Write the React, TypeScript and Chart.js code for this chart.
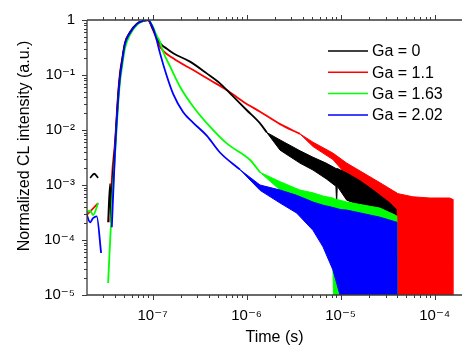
import React, { useEffect, useRef } from "react";
import { Chart, registerables } from "chart.js";

Chart.register(...registerables);

const FONT = "'Liberation Sans', Arial, 'DejaVu Sans', sans-serif";
const FLOOR = 1e-6; // noise reaching below the axis bottom

const SERIES_LABELS = ["Ga = 0", "Ga = 1.1", "Ga = 1.63", "Ga = 2.02"];
const SERIES_COLORS = ["#000000", "#ff0000", "#00ff00", "#0000ff"];

const X_TICK_VALUES = [1e-7, 1e-6, 1e-5, 1e-4];
const X_TICK_LABELS = ["10⁻⁷", "10⁻⁶", "10⁻⁵", "10⁻⁴"];
const Y_TICK_VALUES = [1e-5, 1e-4, 1e-3, 1e-2, 1e-1, 1];
const Y_TICK_LABELS = ["10⁻⁵", "10⁻⁴", "10⁻³", "10⁻²", "10⁻¹", "1"];

const X_TITLE = "Time (s)";
const Y_TITLE = "Normalized CL intensity (a.u.)";

// ---- Ga = 0 (black) ----
const T_GA0 = [2.17e-8, 2.4e-8, 2.64e-8, 3.0e-8, 3.37e-8, 3.54e-8, 3.62e-8, 3.71e-8, 3.99e-8, 4.3e-8, 4.51e-8, 4.74e-8, 5.1e-8, 5.76e-8, 6.84e-8, 7.92e-8, 8.95e-8, 1.01e-7, 1.09e-7, 1.2e-7, 1.42e-7, 1.66e-7, 2.5e-7, 3.77e-7, 5.21e-7, 7.23e-7, 1.0e-6, 1.39e-6, 1.64e-6];
const I_GA0 = [1.35e-3, 1.6e-3, 1.35e-3, null, 2.1e-4, 1.05e-3, 2.0e-4, 8e-4, 5e-3, 0.04, 0.1, 0.18, 0.38, 0.6, 0.86, 0.96, 1.0, 0.68, 0.52, 0.38, 0.3, 0.248, 0.175, 0.107, 0.0706, 0.0403, 0.0231, 0.0132, 0.009];
const BT_GA0 = [1.64e-6, 2.27e-6, 3.69e-6, 5.08e-6, 7.0e-6, 8.9e-6, 9.06e-6, 9.2e-6, 1.16e-5, 1.6e-5, 2.21e-5, 3.34e-5, 3.96e-5];
const BH_GA0 = [0.009, 0.0066, 0.0042, 0.0032, 0.0025, 0.002, 0.002, 0.002, 0.00165, 0.0012, 8.1e-4, 4.7e-4, 3.5e-4];
const BL_GA0 = [0.009, 0.0043, 0.0025, 0.00187, 0.0013, 9.5e-4, 4.7e-4, 9.5e-4, 5.3e-4, 4.3e-4, 3.5e-4, 3.1e-4, 2.85e-4];

// ---- Ga = 1.1 (red) ----
const T_GA11 = [2.0e-8, 2.64e-8, 3.0e-8, 3.54e-8, 3.71e-8, 3.99e-8, 4.3e-8, 4.51e-8, 4.74e-8, 5.1e-8, 5.76e-8, 6.84e-8, 7.92e-8, 8.95e-8, 1.01e-7, 1.09e-7, 1.2e-7, 1.66e-7, 2.71e-7, 4.08e-7, 6.15e-7, 9.2e-7, 1.39e-6, 2.27e-6, 3.69e-6];
const I_GA11 = [2.85e-4, 4.7e-4, null, 2.1e-4, 1.5e-3, 6e-3, 0.045, 0.11, 0.19, 0.39, 0.6, 0.86, 0.96, 1.0, 0.66, 0.48, 0.327, 0.201, 0.123, 0.081, 0.0534, 0.0327, 0.0215, 0.0128, 0.0085];
const BT_GA11 = [3.69e-6, 5.08e-6, 8.28e-6, 1.16e-5, 2.62e-5, 3.78e-5, 3.96e-5, 4.0e-5, 5.86e-5, 8.89e-5, 1.2e-4, 1.44e-4, 1.55e-4, 1.56e-4];
const BH_GA11 = [0.0085, 0.006, 0.0038, 0.0025, 0.0011, 7.5e-4, 7.2e-4, 7.0e-4, 6.1e-4, 5.8e-4, 5.8e-4, 5.8e-4, 5.5e-4, FLOOR];
const BL_GA11 = [0.0085, 0.005, 0.0029, 0.0015, 5.3e-4, 2.85e-4, 2.7e-4, FLOOR, FLOOR, FLOOR, FLOOR, FLOOR, FLOOR, FLOOR];

// ---- Ga = 1.63 (green) ----
const T_GA163 = [2.0e-8, 2.17e-8, 2.33e-8, 2.64e-8, 3.0e-8, 3.37e-8, 3.71e-8, 3.99e-8, 4.3e-8, 4.51e-8, 4.74e-8, 5.1e-8, 5.76e-8, 6.84e-8, 7.92e-8, 8.95e-8, 1.01e-7, 1.09e-7, 1.2e-7, 1.29e-7, 1.54e-7, 1.96e-7, 2.71e-7, 4.08e-7, 6.15e-7, 1.09e-6, 1.39e-6];
const I_GA163 = [3.2e-4, 3.4e-4, 2.85e-4, 4.7e-4, null, 1.65e-5, 4.9e-4, 3.5e-3, 0.028, 0.075, 0.14, 0.31, 0.54, 0.82, 0.95, 1.0, 0.75, 0.55, 0.4, 0.27, 0.142, 0.0612, 0.0265, 0.0115, 0.0057, 0.00285, 0.0017];
const BT_GA163 = [1.39e-6, 2.27e-6, 3.69e-6, 5.08e-6, 6.49e-6, 7.8e-6, 8.28e-6, 8.6e-6, 1.16e-5, 2.62e-5, 3.78e-5, 3.96e-5, 4.0e-5];
const BH_GA163 = [0.0017, 1.15e-3, 8.1e-4, 7.2e-4, 6.3e-4, 5.9e-4, 5.8e-4, 5.6e-4, 4.9e-4, 3.8e-4, 2.85e-4, 2.7e-4, FLOOR];
const BL_GA163 = [0.0017, 8.1e-4, 5.3e-4, 4.3e-4, 3.5e-4, 1.5e-4, 3e-5, FLOOR, FLOOR, FLOOR, FLOOR, FLOOR, FLOOR];

// ---- Ga = 2.02 (blue) ----
const T_GA202 = [2.0e-8, 2.17e-8, 2.33e-8, 2.55e-8, 2.84e-8, 3.2e-8, 3.69e-8, 3.99e-8, 4.3e-8, 4.51e-8, 4.74e-8, 5.1e-8, 5.76e-8, 6.84e-8, 7.92e-8, 8.95e-8, 1.01e-7, 1.09e-7, 1.2e-7, 1.42e-7, 1.66e-7, 2.12e-7, 2.71e-7, 3.77e-7, 5.21e-7, 8.51e-7];
const I_GA202 = [2.85e-4, 2.1e-4, 2.5e-4, 2.7e-4, 5.8e-5, null, 1.7e-4, 4e-3, 0.034, 0.09, 0.17, 0.37, 0.58, 0.85, 0.96, 1.0, 0.72, 0.48, 0.25, 0.095, 0.045, 0.021, 0.0135, 0.0079, 0.0039, 0.0019];
const BT_GA202 = [8.51e-7, 1.39e-6, 2.27e-6, 3.4e-6, 5.08e-6, 6.49e-6, 8.28e-6, 9.84e-6, 1.05e-5, 1.16e-5, 2.62e-5, 3.96e-5, 4.0e-5];
const BH_GA202 = [0.0019, 1.0e-3, 8.1e-4, 6.5e-4, 4.9e-4, 4.3e-4, 3.9e-4, 3.6e-4, 3.55e-4, 3.5e-4, 2.6e-4, 2.1e-4, FLOOR];
const BL_GA202 = [0.0019, 8e-4, 4.7e-4, 3.1e-4, 1.5e-4, 7.5e-5, 2.85e-5, 1.0e-5, FLOOR, FLOOR, FLOOR, FLOOR, FLOOR];

const SERIES = [
  { t: T_GA0, i: I_GA0, bt: BT_GA0, bh: BH_GA0, bl: BL_GA0, order: 3 },
  { t: T_GA11, i: I_GA11, bt: BT_GA11, bh: BH_GA11, bl: BL_GA11, order: 4 },
  { t: T_GA163, i: I_GA163, bt: BT_GA163, bh: BH_GA163, bl: BL_GA163, order: 2 },
  { t: T_GA202, i: I_GA202, bt: BT_GA202, bh: BH_GA202, bl: BL_GA202, order: 1 },
];

const pts = (xs: number[], ys: (number | null)[]) => xs.map((x, k) => ({ x, y: ys[k] }));

function buildDatasets() {
  const out: any[] = [];
  SERIES.forEach((s, idx) => {
    const color = SERIES_COLORS[idx];
    out.push({
      label: SERIES_LABELS[idx],
      data: pts(s.t, s.i),
      borderColor: color,
      backgroundColor: color,
      borderWidth: 1.8,
      pointRadius: 0,
      spanGaps: false,
      cubicInterpolationMode: "monotone",
      fill: false,
      order: s.order,
    });
    out.push({
      label: SERIES_LABELS[idx] + " noise high",
      data: pts(s.bt, s.bh),
      borderColor: color,
      backgroundColor: color,
      borderWidth: 1,
      pointRadius: 0,
      tension: 0,
      fill: "+1",
      order: s.order,
    });
    out.push({
      label: SERIES_LABELS[idx] + " noise low",
      data: pts(s.bt, s.bl),
      borderColor: color,
      backgroundColor: color,
      borderWidth: 1,
      pointRadius: 0,
      tension: 0,
      fill: false,
      order: s.order,
    });
  });
  return out;
}

const decoPlugin = {
  id: "deco",
  afterDraw(chart: any) {
    const { ctx, chartArea: a, scales } = chart;
    const x = scales.x;
    const y = scales.y;
    ctx.save();
    ctx.strokeStyle = "#3a3a3a";
    ctx.lineWidth = 1.3;
    ctx.beginPath();
    ctx.moveTo(a.left, a.top);
    ctx.lineTo(a.right, a.top);
    ctx.moveTo(a.left, a.top);
    ctx.lineTo(a.left, a.bottom);
    ctx.lineTo(a.right, a.bottom);
    ctx.stroke();
    ctx.lineWidth = 1;
    ctx.beginPath();
    for (let n = -9; n <= -3; n++) {
      for (let k = 1; k <= 9; k++) {
        const v = k * Math.pow(10, n);
        if (v < x.min || v > x.max) continue;
        const px = Math.round(x.getPixelForValue(v)) + 0.5;
        const len = k === 1 ? 5 : 3;
        ctx.moveTo(px, a.bottom);
        ctx.lineTo(px, a.bottom + len);
        ctx.moveTo(px, a.top);
        ctx.lineTo(px, a.top - len);
      }
    }
    for (let n = -6; n <= 0; n++) {
      for (let k = 1; k <= 9; k++) {
        const v = k * Math.pow(10, n);
        if (v < y.min * 0.999 || v > y.max * 1.001) continue;
        const py = Math.round(y.getPixelForValue(v)) + 0.5;
        const len = k === 1 ? 5 : 3;
        ctx.moveTo(a.left, py);
        ctx.lineTo(a.left - len, py);
      }
    }
    ctx.stroke();

    // y axis title
    ctx.fillStyle = "#000";
    ctx.font = "16px " + FONT;
    ctx.textAlign = "center";
    ctx.textBaseline = "middle";
    ctx.save();
    ctx.translate(25, 146);
    ctx.rotate(-Math.PI / 2);
    ctx.fillText(Y_TITLE, 0, 0);
    ctx.restore();

    // legend
    ctx.font = "16px " + FONT;
    ctx.textBaseline = "middle";
    ctx.textAlign = "left";
    SERIES_LABELS.forEach((lab, k) => {
      const yy = 51 + k * 21.3;
      ctx.strokeStyle = SERIES_COLORS[k];
      ctx.lineWidth = 1.5;
      ctx.beginPath();
      ctx.moveTo(328, yy);
      ctx.lineTo(368, yy);
      ctx.stroke();
      ctx.fillStyle = "#000";
      ctx.fillText(lab, 372, yy + 1);
    });
    ctx.restore();
  },
};

export default function App() {
  const ref = useRef<HTMLCanvasElement>(null);
  useEffect(() => {
    document.body.style.margin = "0";
    const canvas = ref.current!;
    const chart = new Chart(canvas, {
      type: "line",
      data: { datasets: buildDatasets() },
      options: {
        animation: false,
        responsive: false,
        devicePixelRatio: 1,
        layout: { padding: { left: 0, right: 0, top: 20, bottom: 0 } },
        plugins: {
          legend: { display: false },
          tooltip: { enabled: false },
          filler: { propagate: false },
        },
        scales: {
          x: {
            type: "logarithmic",
            min: 2.01e-8,
            max: 1.95e-4,
            grid: { display: false },
            border: { display: false },
            afterBuildTicks: (s: any) => {
              s.ticks = X_TICK_VALUES.map((v) => ({ value: v }));
            },
            afterFit: (s: any) => {
              s.height = 52;
            },
            ticks: {
              autoSkip: false,
              maxRotation: 0,
              padding: 4,
              color: "#000",
              font: { size: 15, family: FONT },
              callback: (_v: any, i: number) => X_TICK_LABELS[i],
            },
            title: {
              display: true,
              text: X_TITLE,
              color: "#000",
              font: { size: 16, family: FONT },
              padding: { top: 0, bottom: 0 },
            },
          },
          y: {
            type: "logarithmic",
            min: 1e-5,
            max: 1,
            grid: { display: false },
            border: { display: false },
            afterBuildTicks: (s: any) => {
              s.ticks = Y_TICK_VALUES.map((v) => ({ value: v }));
            },
            afterFit: (s: any) => {
              s.width = 87;
            },
            ticks: {
              autoSkip: false,
              padding: 4,
              color: "#000",
              font: { size: 15, family: FONT },
              callback: (_v: any, i: number) => Y_TICK_LABELS[i],
            },
            title: { display: false, text: Y_TITLE },
          },
        },
      },
      plugins: [decoPlugin],
    } as any);
    return () => chart.destroy();
  }, []);
  return (
    <div style={{ width: 462, height: 347 }}>
      <canvas ref={ref} width={462} height={347} style={{ display: "block" }} />
    </div>
  );
}
